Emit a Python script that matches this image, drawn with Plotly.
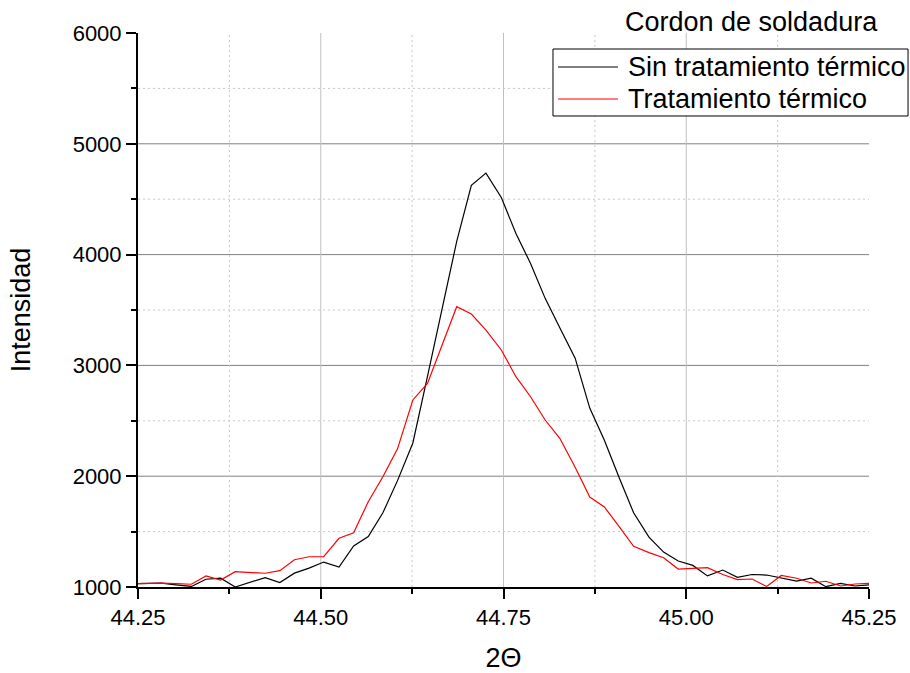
import plotly.graph_objects as go

# 2-theta positions of the diffractogram (degrees)
two_theta = [
    44.242, 44.262, 44.282, 44.302, 44.323, 44.343, 44.363, 44.383, 44.403, 44.424,
    44.444, 44.464, 44.484, 44.504, 44.525, 44.545, 44.565, 44.585, 44.605, 44.626,
    44.646, 44.666, 44.686, 44.706, 44.726, 44.747, 44.767, 44.787, 44.807, 44.827,
    44.848, 44.868, 44.888, 44.908, 44.928, 44.949, 44.969, 44.989, 45.009, 45.029,
    45.050, 45.070, 45.090, 45.110, 45.130, 45.151, 45.171, 45.191, 45.211, 45.231,
    45.252,
]

# Intensity, weld bead without heat treatment
sin_tratamiento = [
    1030, 1035, 1035, 1020, 1005, 1070, 1080, 1000, 1040, 1085,
    1040, 1125, 1170, 1225, 1180, 1370, 1455, 1670, 1960, 2300,
    2900, 3500, 4120, 4625, 4735, 4515, 4190, 3920, 3605, 3340,
    3065, 2615, 2325, 1990, 1670, 1450, 1315, 1235, 1195, 1100,
    1153, 1088, 1113, 1108, 1081, 1054, 1079, 1003, 1033, 1009,
    1020,
]

# Intensity, weld bead with heat treatment
con_tratamiento = [
    1030, 1035, 1035, 1030, 1025, 1100, 1063, 1138, 1130, 1124,
    1147, 1246, 1273, 1273, 1440, 1490, 1770, 1995, 2247, 2688,
    2838, 3184, 3530, 3464, 3319, 3139, 2898, 2717, 2507, 2342,
    2080, 1812, 1722, 1548, 1367, 1310, 1264, 1162, 1167, 1174,
    1113, 1067, 1072, 1005, 1104, 1079, 1036, 1052, 1009, 1027,
    1033,
]

series_names = ["Sin tratamiento térmico", "Tratamiento térmico"]
series_colors = ["#000000", "#ff0000"]
chart_title = "Cordon de soldadura"

x_range = [44.25, 45.25]
y_range = [1000, 6000]
x_major_grid = [44.5, 44.75, 45.0]
x_minor_grid = [44.375, 44.625, 44.875, 45.125]
y_major_grid = [2000, 3000, 4000, 5000]
y_minor_grid = [1500, 2500, 3500, 4500, 5500]

FONT = "Arial, Liberation Sans, sans-serif"

fig = go.Figure()
for ys, name, color in zip([sin_tratamiento, con_tratamiento], series_names, series_colors):
    fig.add_trace(go.Scatter(
        x=two_theta, y=ys, mode="lines", name=name,
        line=dict(color=color, width=1.2), showlegend=False,
    ))

shapes = []
# grid lines (kept off the top and right frame edges)
for v in y_major_grid:
    shapes.append(dict(type="line", xref="paper", yref="y", x0=0, x1=1, y0=v, y1=v,
                       line=dict(color="#808080", width=1), layer="below"))
for v in y_minor_grid:
    shapes.append(dict(type="line", xref="paper", yref="y", x0=0, x1=1, y0=v, y1=v,
                       line=dict(color="#c8c8c8", width=1, dash="2px,3px"), layer="below"))
for v in x_major_grid:
    shapes.append(dict(type="line", xref="x", yref="paper", x0=v, x1=v, y0=0, y1=1,
                       line=dict(color="#c0c0c0", width=1), layer="below"))
for v in x_minor_grid:
    shapes.append(dict(type="line", xref="x", yref="paper", x0=v, x1=v, y0=0, y1=1,
                       line=dict(color="#c8c8c8", width=1, dash="2px,3px"), layer="below"))

# legend box with line samples
shapes.append(dict(type="rect", xref="paper", yref="paper", x0=0.5677, x1=1.0534,
                   y0=0.8502, y1=0.9711, line=dict(color="black", width=1),
                   fillcolor="white", layer="above"))
legend_y = [0.9386, 0.8809]
annotations = []
for ly, name, color in zip(legend_y, series_names, series_colors):
    shapes.append(dict(type="line", xref="paper", yref="paper", x0=0.5746, x1=0.6566,
                       y0=ly, y1=ly, line=dict(color=color, width=1.2), layer="above"))
    annotations.append(dict(text=name, xref="paper", yref="paper", x=0.6675, y=ly,
                            xanchor="left", yanchor="middle", showarrow=False,
                            font=dict(family=FONT, size=27, color="black")))

annotations.append(dict(text=chart_title, xref="paper", yref="paper", x=0.8386, y=1.02,
                        xanchor="center", yanchor="middle", showarrow=False,
                        font=dict(family=FONT, size=27, color="black")))

axis_common = dict(
    showgrid=False, zeroline=False, showline=True, linecolor="black", linewidth=2,
    ticks="outside", ticklen=10, tickwidth=2, tickcolor="black", automargin=False,
    tickfont=dict(family=FONT, size=22, color="black"),
)

fig.update_layout(
    width=910, height=673,
    margin=dict(l=138, r=41, t=33, b=86),
    paper_bgcolor="white", plot_bgcolor="white",
    font=dict(family=FONT, color="black"),
    shapes=shapes, annotations=annotations,
    xaxis=dict(
        range=x_range, tick0=44.25, dtick=0.25, tickformat=".2f",
        minor=dict(dtick=0.125, tick0=44.25, ticks="outside", ticklen=5, tickwidth=2,
                   tickcolor="black", showgrid=False),
        title=dict(text="2Θ", font=dict(family=FONT, size=27), standoff=19),
        **axis_common,
    ),
    yaxis=dict(
        range=y_range, tick0=1000, dtick=1000,
        minor=dict(dtick=500, tick0=1000, ticks="outside", ticklen=5, tickwidth=2,
                   tickcolor="black", showgrid=False),
        title=dict(text="Intensidad", font=dict(family=FONT, size=27), standoff=34),
        **axis_common,
    ),
)

fig.write_html("out.html")
